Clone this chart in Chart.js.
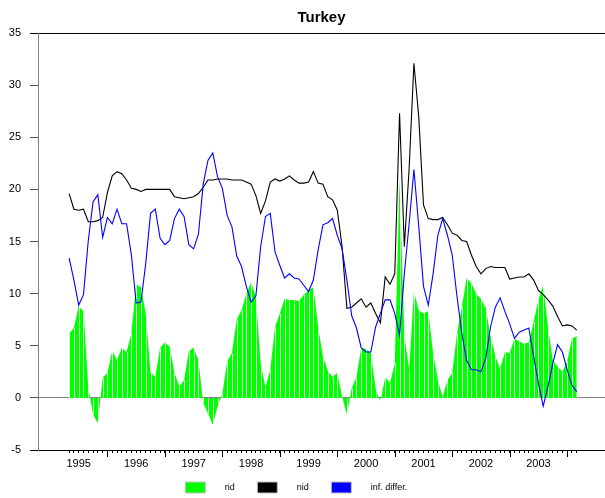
<!DOCTYPE html>
<html>
<head>
<meta charset="utf-8">
<script src="https://cdn.jsdelivr.net/npm/chart.js@4.4.1/dist/chart.umd.min.js"></script>
<style>
  html, body { margin: 0; padding: 0; background: #fff; }
  #wrap { width: 605px; height: 498px; }
</style>
</head>
<body>
<div id="wrap"><canvas id="chart"></canvas></div>
<script>
// monthly data, May 1995 .. Mar 2004 (x = months after Jan 1995)
const firstMonth = 4;
const years = ['1995', '1996', '1997', '1998', '1999', '2000', '2001', '2002', '2003'];

const rid = [
  6.2, 6.7, 8.8, 8.3, 1.0, -1.6, -2.4, 1.9, 2.4, 4.5,
  3.6, 4.8, 4.4, 6.2, 10.9, 10.6, 8.1, 2.4, 2.0, 4.8,
  5.3, 4.9, 2.4, 1.1, 1.7, 4.5, 4.8, 3.6, -0.5, -1.5,
  -2.6, -0.8, 0.4, 3.5, 4.3, 7.5, 8.4, 10.0, 11.1, 9.7,
  3.3, 1.0, 2.7, 6.8, 8.1, 9.5, 9.4, 9.4, 9.3, 9.9,
  10.3, 10.6, 6.8, 4.0, 2.6, 2.0, 2.4, 0.1, -1.6, 0.9,
  2.0, 4.8, 4.7, 4.3, 0.9, -0.4, 2.0, 1.4, 3.3, 21.0,
  6.0, 2.7, 10.2, 8.4, 8.1, 8.3, 4.3, 1.7, 0.1, 1.7,
  2.4, 6.2, 8.7, 11.5, 11.0, 10.0, 9.5, 8.6, 5.9, 4.0,
  2.8, 4.4, 4.3, 5.7, 5.4, 5.2, 5.3, 7.3, 9.4, 10.8,
  6.8, 3.6, 3.0, 2.5, 3.5, 5.7, 5.9
];
const nid = [
  19.6, 18.1, 18.0, 18.1, 16.9, 16.9, 17.0, 17.3, 19.7, 21.3,
  21.7, 21.5, 20.9, 20.1, 20.0, 19.8, 20.0, 20.0, 20.0, 20.0,
  20.0, 20.0, 19.3, 19.2, 19.1, 19.2, 19.3, 19.6, 20.2, 20.9,
  20.9, 21.0, 21.0, 21.0, 20.9, 20.9, 20.9, 20.7, 20.5, 19.4,
  17.7, 18.9, 20.7, 21.0, 20.8, 21.0, 21.3, 20.9, 20.6, 20.6,
  20.7, 21.7, 20.6, 20.5, 19.3, 19.0, 18.0, 14.5, 8.6, 8.7,
  9.1, 9.5, 8.7, 9.1, 8.1, 7.2, 11.6, 10.9, 11.9, 27.3,
  14.5, 22.0, 32.1, 27.0, 18.5, 17.2, 17.1, 17.1, 17.3, 16.6,
  15.8, 15.6, 15.1, 15.0, 13.7, 12.6, 11.9, 12.4, 12.6, 12.5,
  12.5, 12.5, 11.4, 11.5, 11.6, 11.6, 11.9, 11.3, 10.3, 9.9,
  9.4, 8.8, 7.8, 6.9, 7.0, 6.9, 6.5
];
const infDiffer = [
  13.4, 11.3, 8.9, 9.9, 15.1, 18.8, 19.5, 15.4, 17.3, 16.7,
  18.1, 16.7, 16.7, 13.7, 9.1, 9.2, 12.9, 17.7, 18.1, 15.3,
  14.7, 15.1, 17.2, 18.1, 17.4, 14.7, 14.3, 15.7, 20.5, 22.8,
  23.5, 21.2, 20.1, 17.5, 16.4, 13.6, 12.6, 10.7, 9.2, 9.8,
  14.5, 17.4, 17.7, 14.0, 12.7, 11.5, 11.9, 11.5, 11.4, 10.8,
  10.2, 11.3, 14.2, 16.6, 16.8, 17.2, 15.6, 14.3, 11.3, 7.9,
  6.7, 4.8, 4.4, 4.4, 6.8, 8.1, 9.4, 9.4, 8.1, 6.0,
  11.9, 16.7, 21.9, 16.5, 10.7, 8.9, 11.9, 15.6, 17.2, 15.6,
  13.7, 9.7, 6.2, 3.6, 2.7, 2.7, 2.5, 3.8, 6.8, 8.7,
  9.6, 8.3, 7.1, 5.7, 6.3, 6.5, 6.7, 4.0, 1.4, -0.8,
  1.1, 3.3, 5.1, 4.4, 2.7, 1.2, 0.6
];

const toPoints = arr => arr.map((v, i) => ({ x: firstMonth + i, y: v }));
const lastMonth = firstMonth + rid.length - 1;

// white vertical stripes through the green area, one per month
const stripes = {
  id: 'stripes',
  afterDatasetDraw(chart, args) {
    if (args.index !== 0) return;
    const ctx = chart.ctx;
    const y0 = chart.scales.y.getPixelForValue(0);
    ctx.save();
    ctx.strokeStyle = 'rgba(255,255,255,0.8)';
    ctx.lineWidth = 1;
    args.meta.data.forEach(pt => {
      const x = Math.round(pt.x) + 0.5;
      ctx.beginPath();
      ctx.moveTo(x, pt.y);
      ctx.lineTo(x, y0);
      ctx.stroke();
    });
    ctx.restore();
  }
};

// longer tick marks at each January
const yearTicks = {
  id: 'yearTicks',
  afterDraw(chart) {
    const xs = chart.scales.x, ctx = chart.ctx;
    const bottom = chart.chartArea.bottom;
    ctx.save();
    ctx.strokeStyle = '#000';
    ctx.lineWidth = 1;
    for (let m = 12; m <= lastMonth; m += 12) {
      const px = Math.round(xs.getPixelForValue(m)) + 0.5;
      ctx.beginPath();
      ctx.moveTo(px, bottom);
      ctx.lineTo(px, bottom + 7);
      ctx.stroke();
    }
    ctx.restore();
  }
};

// push the legend a few pixels lower
const legendShift = {
  id: 'legendShift',
  afterLayout(chart) {
    const lg = chart.legend;
    lg.top += 5;
    lg.bottom += 5;
    if (lg.legendHitBoxes) lg.legendHitBoxes.forEach(b => { b.top += 5; });
  }
};

const ctx = document.getElementById('chart').getContext('2d');

const chart = new Chart(ctx, {
  type: 'line',
  data: {
    datasets: [
      {
        label: 'rid',
        data: toPoints(rid),
        borderWidth: 0,
        borderColor: '#00ff00',
        backgroundColor: '#00ff00',
        fill: 'origin',
        pointRadius: 0,
        tension: 0,
        order: 3
      },
      {
        label: 'nid',
        data: toPoints(nid),
        borderColor: '#000000',
        backgroundColor: '#000000',
        borderWidth: 1.1,
        fill: false,
        pointRadius: 0,
        tension: 0,
        order: 2
      },
      {
        label: 'inf. differ.',
        data: toPoints(infDiffer),
        borderColor: '#0000ff',
        backgroundColor: '#0000ff',
        borderWidth: 1.1,
        fill: false,
        pointRadius: 0,
        tension: 0,
        order: 1
      }
    ]
  },
  plugins: [stripes, yearTicks, legendShift],
  options: {
    responsive: true,
    maintainAspectRatio: false,
    animation: false,
    layout: { padding: { left: 0, right: 0, top: 0, bottom: 0 } },
    plugins: {
      tooltip: { enabled: false },
      title: {
        display: true,
        text: 'Turkey',
        fullSize: false,
        color: '#000',
        font: { family: 'Liberation Sans', size: 15, weight: 'bold' },
        padding: { top: 9, bottom: 6 }
      },
      legend: {
        position: 'bottom',
        labels: {
          boxWidth: 20,
          boxHeight: 11,
          padding: 10,
          color: '#000',
          font: { family: 'Liberation Sans', size: 9 },
          generateLabels: chart => chart.data.datasets.map((ds, i) => ({
            text: '      ' + ds.label + '     ',
            fillStyle: ds.backgroundColor,
            strokeStyle: '#c0c0c0',
            lineWidth: 1,
            hidden: false,
            datasetIndex: i
          }))
        }
      }
    },
    scales: {
      x: {
        type: 'linear',
        min: -2.5,
        max: 115.9,
        afterBuildTicks: scale => {
          scale.ticks = rid.map((v, i) => ({ value: firstMonth + i }));
        },
        afterFit: scale => { scale.height = 17; },
        ticks: {
          autoSkip: false,
          maxRotation: 0,
          padding: 4,
          color: '#000',
          font: { family: 'Liberation Sans', size: 11 },
          callback: value => (value % 12 === 6 ? years[(value - 6) / 12] : '')
        },
        grid: {
          drawOnChartArea: false,
          tickLength: 3,
          tickColor: '#000'
        },
        border: { color: '#000', width: 1 }
      },
      y: {
        min: -5,
        max: 35,
        afterFit: scale => { scale.width = 38; },
        ticks: {
          stepSize: 5,
          padding: 9,
          color: '#000',
          font: { family: 'Liberation Sans', size: 11 }
        },
        grid: {
          tickLength: 8,
          color: c => (c.tick.value === 35 ? '#000' : c.tick.value === 0 ? '#808080' : 'rgba(0,0,0,0)'),
          tickColor: c => (c.tick.value === 35 || c.tick.value === -5 ? '#000' : '#555')
        },
        border: { color: '#808080', width: 1 }
      }
    }
  }
});
</script>
</body>
</html>
